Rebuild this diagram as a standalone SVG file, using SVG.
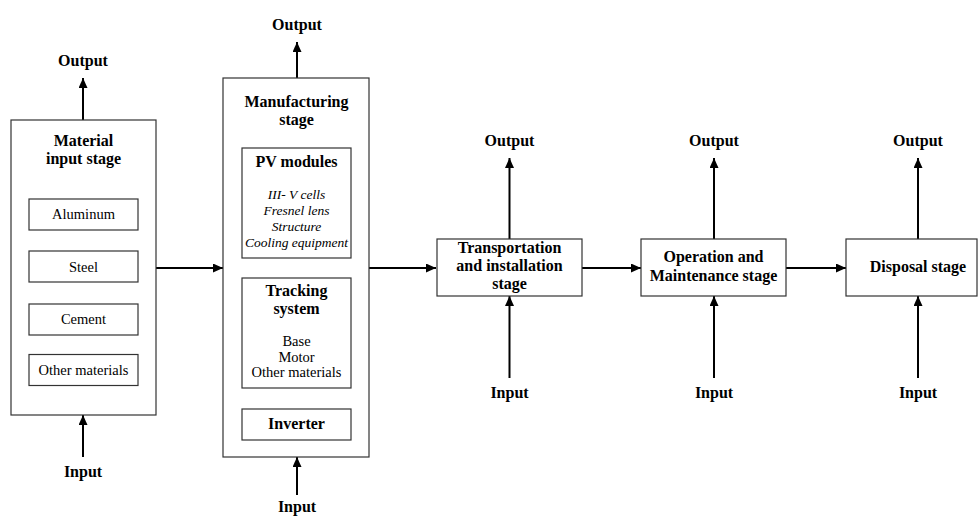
<svg xmlns="http://www.w3.org/2000/svg" width="979" height="516" viewBox="0 0 979 516">
<defs>
<marker id="ah" markerUnits="userSpaceOnUse" markerWidth="11" markerHeight="10" refX="10" refY="4.5" orient="auto">
<path d="M0,0 L10,4.5 L0,9 z" fill="#000"/>
</marker>
<style>
.box{fill:#fff;stroke:#333;stroke-width:1.2}
.arr{stroke:#000;stroke-width:2;fill:none;marker-end:url(#ah)}
text{font-family:"Liberation Serif","Times New Roman",serif;fill:#000;text-anchor:middle}
.h{font-size:16px;font-weight:bold}
.r{font-size:14.5px}
.i{font-size:13.5px;font-style:italic}
</style>
</defs>
<rect width="979" height="516" fill="#fff"/>

<g id="connectors">
<line class="arr" x1="83" y1="120" x2="83" y2="78"/>
<line class="arr" x1="83" y1="457" x2="83" y2="415"/>
<line class="arr" x1="156" y1="268" x2="223" y2="268"/>
<line class="arr" x1="297" y1="78" x2="297" y2="42"/>
<line class="arr" x1="297" y1="495" x2="297" y2="457"/>
<line class="arr" x1="369" y1="268" x2="436" y2="268"/>
<line class="arr" x1="509.5" y1="239" x2="509.5" y2="158"/>
<line class="arr" x1="509.5" y1="378" x2="509.5" y2="296"/>
<line class="arr" x1="582" y1="268" x2="641" y2="268"/>
<line class="arr" x1="714" y1="239" x2="714" y2="158"/>
<line class="arr" x1="714" y1="378" x2="714" y2="296"/>
<line class="arr" x1="786" y1="268" x2="846" y2="268"/>
<line class="arr" x1="918" y1="239" x2="918" y2="158"/>
<line class="arr" x1="918" y1="378" x2="918" y2="296"/>
</g>

<g id="labels">
<text class="h" x="83" y="66">Output</text>
<text class="h" x="83" y="477">Input</text>
<text class="h" x="297" y="30">Output</text>
<text class="h" x="297" y="512">Input</text>
<text class="h" x="509.5" y="146">Output</text>
<text class="h" x="509.5" y="398">Input</text>
<text class="h" x="714" y="146">Output</text>
<text class="h" x="714" y="398">Input</text>
<text class="h" x="918" y="146">Output</text>
<text class="h" x="918" y="398">Input</text>
</g>

<g id="material-input-stage">
<rect class="box" x="11" y="120" width="145" height="295"/>
<text class="h" x="83.5" y="145.5">Material</text>
<text class="h" x="83.5" y="163.5">input stage</text>
<g id="aluminum"><rect class="box" x="29" y="199" width="109" height="31"/><text class="r" x="83.5" y="219">Aluminum</text></g>
<g id="steel"><rect class="box" x="29" y="251" width="109" height="31"/><text class="r" x="83.5" y="271.5">Steel</text></g>
<g id="cement"><rect class="box" x="29" y="304" width="109" height="31"/><text class="r" x="83.5" y="324">Cement</text></g>
<g id="other-materials"><rect class="box" x="29" y="354.5" width="109" height="31"/><text class="r" x="83.5" y="374.5">Other materials</text></g>
</g>

<g id="manufacturing-stage">
<rect class="box" x="223" y="78" width="146" height="379"/>
<text class="h" x="296.5" y="107">Manufacturing</text>
<text class="h" x="296.5" y="125">stage</text>
<g id="pv-modules">
<rect class="box" x="242" y="148" width="109" height="110"/>
<text class="h" x="296.5" y="167">PV modules</text>
<text class="i" x="296.5" y="199">III- V cells</text>
<text class="i" x="296.5" y="215">Fresnel lens</text>
<text class="i" x="296.5" y="231">Structure</text>
<text class="i" x="296.5" y="246.5">Cooling equipment</text>
</g>
<g id="tracking-system">
<rect class="box" x="242" y="278" width="109" height="110"/>
<text class="h" x="296.5" y="296">Tracking</text>
<text class="h" x="296.5" y="314">system</text>
<text class="r" x="296.5" y="346">Base</text>
<text class="r" x="296.5" y="361.5">Motor</text>
<text class="r" x="296.5" y="377">Other materials</text>
</g>
<g id="inverter">
<rect class="box" x="242" y="409" width="109" height="31"/>
<text class="h" x="296.5" y="429">Inverter</text>
</g>
</g>

<g id="transportation-stage">
<rect class="box" x="437" y="239" width="145" height="57"/>
<text class="h" x="509.5" y="252.5">Transportation</text>
<text class="h" x="509.5" y="270.5">and installation</text>
<text class="h" x="509.5" y="288.5">stage</text>
</g>

<g id="operation-stage">
<rect class="box" x="641" y="239" width="145" height="57"/>
<text class="h" x="713.5" y="262">Operation and</text>
<text class="h" x="713.5" y="281">Maintenance stage</text>
</g>

<g id="disposal-stage">
<rect class="box" x="846" y="239" width="131" height="57"/>
<text class="h" x="918" y="272">Disposal stage</text>
</g>
</svg>
